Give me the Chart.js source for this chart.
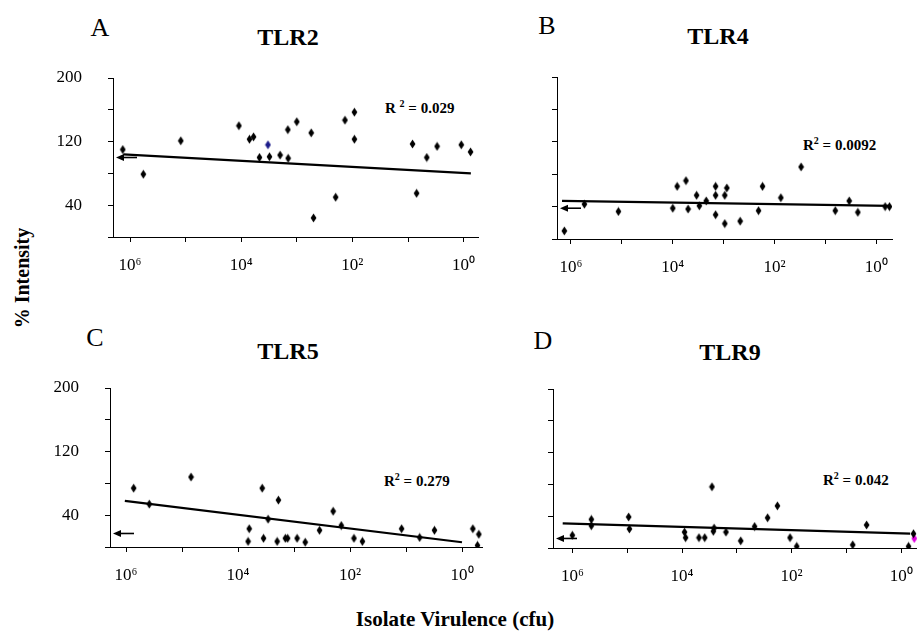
<!DOCTYPE html>
<html>
<head>
<meta charset="utf-8">
<script src="https://cdn.jsdelivr.net/npm/chart.js@4.4.1/dist/chart.umd.min.js"></script>
<style>
  html, body { margin: 0; padding: 0; background: #fff; }
  body { width: 917px; height: 639px; position: relative; overflow: hidden;
         font-family: 'Liberation Serif', 'Times New Roman', serif; color: #000; }
  canvas { position: absolute; }
  .txt { position: absolute; white-space: nowrap; transform: translate(-50%, -50%); line-height: 1; }
  .letter { font-size: 26px; }
  .title { font-size: 24px; font-weight: bold; }
  .r2 { font-size: 15px; font-weight: bold; transform: translate(0, -50%); }
  .r2 sup { font-size: 10px; line-height: 0; }
  .axis { font-size: 21px; font-weight: bold; }
  .ylab { transform: translate(-50%, -50%) rotate(-90deg); font-size: 20px; }
</style>
</head>
<body>

<div class="txt letter" style="left:100px; top:28px;">A</div>
<div class="txt title" style="left:288px; top:37px;">TLR2</div>
<div class="txt letter" style="left:547px; top:26px;">B</div>
<div class="txt title" style="left:718px; top:36px;">TLR4</div>
<div class="txt letter" style="left:95px; top:338px;">C</div>
<div class="txt title" style="left:288px; top:351px;">TLR5</div>
<div class="txt letter" style="left:543px; top:341px;">D</div>
<div class="txt title" style="left:730px; top:352px;">TLR9</div>

<div class="txt r2" style="left:385px; top:108px;">R <sup>2</sup> = 0.029</div>
<div class="txt r2" style="left:803px; top:145px;">R<sup>2</sup> = 0.0092</div>
<div class="txt r2" style="left:384px; top:481px;">R<sup>2</sup> = 0.279</div>
<div class="txt r2" style="left:823px; top:480px;">R<sup>2</sup> = 0.042</div>

<div class="txt axis ylab" style="left:22px; top:278px;">% Intensity</div>
<div class="txt axis" style="left:455px; top:619px;">Isolate Virulence (cfu)</div>

<canvas id="tlr2"></canvas>
<canvas id="tlr4"></canvas>
<canvas id="tlr5"></canvas>
<canvas id="tlr9"></canvas>

<script>
// tick values
const xTickValues = [1e6, 1e5, 1e4, 1e3, 1e2, 1e1, 1e0];
const yLabelValues = [40, 120, 200];

// TLR2 (A)
const tlr2X = [1.35e6, 5.75e5, 1.22e5, 1.1e4, 7.1e3, 6.0e3, 4.7e3, 3.1e3, 2.0e3, 1.45e3, 1.43e3, 1.0e3,
               550, 500, 200, 136, 92, 92, 8.3, 7.0, 4.6, 3.0, 1.1, 0.75];
const tlr2Y = [110, 79, 121, 140, 123, 126, 100, 101, 103, 135, 99, 145,
               131, 24, 50, 147, 157, 123, 117, 55, 100, 114, 116, 107];
const tlr2BlueX = [3.3e3];
const tlr2BlueY = [116];
const tlr2TrendX = [1.32e6, 0.74];
const tlr2TrendY = [104, 80];

// TLR4 (B)
const tlr4X = [1.35e6, 5.45e5, 1.17e5, 1.0e4, 8.2e3, 5.5e3, 5.0e3, 3.4e3, 3.0e3, 2.2e3, 1.44e3, 1.44e3, 1.44e3,
               950, 865, 950, 473, 206, 172, 75, 30, 6.4, 3.4, 2.3, 0.67, 0.55];
const tlr4Y = [10, 43, 34, 38, 65, 72, 37, 54, 41, 47, 65, 54, 30,
               54, 63, 19, 22, 35, 65, 51, 89, 35, 47, 33, 40, 40];
const tlr4TrendX = [1.5e6, 0.55];
const tlr4TrendY = [47, 41];

// TLR5 (C)
const tlr5X = [7.3e5, 3.84e5, 6.9e4, 6.6e3, 6.3e3, 3.7e3, 3.5e3, 2.9e3, 2.0e3, 1.9e3, 1.43e3, 1.3e3,
               880, 630, 350, 200, 143, 85, 60, 12, 5.7, 3.1, 0.64, 0.5, 0.53];
const tlr5Y = [74, 54, 88, 7, 23, 74, 11, 35, 7, 59, 11, 11,
               11, 6, 21, 45, 27, 11, 7, 23, 12, 21, 23, 16, 2];
const tlr5TrendX = [1.05e6, 1.0];
const tlr5TrendY = [58, 6];

// TLR9 (D)
const tlr9X = [1.0e6, 4.5e5, 4.5e5, 9.4e4, 9.1e4, 9.0e3, 8.6e3, 4.9e3, 3.85e3, 2.84e3, 2.68e3, 2.6e3,
               1.58e3, 850, 474, 275, 182, 107, 81, 7.7, 4.3, 0.74, 0.6];
const tlr9Y = [16, 36, 28, 39, 24, 20, 13, 13, 13, 77, 21, 25,
               20, 9, 27, 38, 53, 13, 2, 4, 29, 2, 18];
const tlr9PinkX = [0.58];
const tlr9PinkY = [12];
const tlr9TrendX = [1.5e6, 0.69];
const tlr9TrendY = [31, 18];

// arrow levels (% intensity) at the left axis
const arrowLevels = [100, 38, 17, 12];

const toPoints = (xs, ys) => xs.map((x, i) => ({ x: x, y: ys[i] }));
const sup = { '0': '⁰', '2': '²', '4': '⁴', '6': '⁶' };

function diamond(color) {
    const c = document.createElement('canvas');
    c.width = 7;
    c.height = 10;
    const g = c.getContext('2d');
    g.fillStyle = color;
    g.beginPath();
    g.moveTo(3.5, 0.6);
    g.lineTo(6.4, 5);
    g.lineTo(3.5, 9.4);
    g.lineTo(0.6, 5);
    g.closePath();
    g.fill();
    return c;
}

const blackDiamond = diamond('#000');

const arrowPlugin = {
    id: 'leftArrow',
    afterDatasetsDraw(chart, args, opts) {
        const ctx = chart.ctx;
        const y = chart.scales.y.getPixelForValue(opts.value);
        const x0 = chart.chartArea.left + 3;
        const x1 = x0 + 21;
        ctx.save();
        ctx.strokeStyle = '#000';
        ctx.fillStyle = '#000';
        ctx.lineWidth = 1.6;
        ctx.beginPath();
        ctx.moveTo(x0 + 6, y);
        ctx.lineTo(x1, y);
        ctx.stroke();
        ctx.beginPath();
        ctx.moveTo(x0, y);
        ctx.lineTo(x0 + 8, y - 3.5);
        ctx.lineTo(x0 + 8, y + 3.5);
        ctx.closePath();
        ctx.fill();
        ctx.restore();
    }
};

const ML = 80, MT = 15, MR = 15, MB = 55;

function makePanel(id, area, logMin, logMax, showYLabels, datasets, arrowValue) {
    const canvas = document.getElementById(id);
    const w = area.right - area.left + ML + MR;
    const h = area.bottom - area.top + MT + MB;
    canvas.width = w;
    canvas.height = h;
    canvas.style.width = w + 'px';
    canvas.style.height = h + 'px';
    canvas.style.left = (area.left - ML) + 'px';
    canvas.style.top = (area.top - MT) + 'px';

    const tickFont = { family: "'Liberation Serif', 'Times New Roman', serif", size: 17 };

    return new Chart(canvas.getContext('2d'), {
        type: 'scatter',
        data: { datasets: datasets },
        options: {
            responsive: false,
            animation: false,
            devicePixelRatio: 1,
            events: [],
            layout: { padding: { left: 0, top: MT, right: MR, bottom: 0 } },
            plugins: {
                legend: { display: false },
                tooltip: { enabled: false },
                leftArrow: { value: arrowValue }
            },
            scales: {
                x: {
                    type: 'logarithmic',
                    reverse: true,
                    min: Math.pow(10, logMin),
                    max: Math.pow(10, logMax),
                    afterBuildTicks: (scale) => {
                        scale.ticks = xTickValues.map(v => ({ value: v }));
                    },
                    afterFit: (scale) => {
                        scale.height = MB;
                        scale.paddingLeft = 0;
                        scale.paddingRight = 0;
                    },
                    ticks: {
                        autoSkip: false,
                        maxRotation: 0,
                        padding: 13,
                        color: '#000',
                        font: tickFont,
                        callback: (value) => {
                            const e = Math.round(Math.log10(value));
                            return e % 2 === 0 ? '10' + sup[String(e)] : '';
                        }
                    },
                    grid: { drawOnChartArea: false, drawTicks: true, tickLength: 5, color: '#000', lineWidth: 1 },
                    border: { display: true, color: '#000', width: 1 }
                },
                y: {
                    min: 0,
                    max: 200,
                    afterFit: (scale) => {
                        scale.width = ML;
                        scale.paddingTop = 0;
                        scale.paddingBottom = 0;
                    },
                    ticks: {
                        stepSize: 40,
                        padding: 26,
                        color: '#000',
                        font: tickFont,
                        callback: (value) => (showYLabels && yLabelValues.includes(value)) ? String(value) : ''
                    },
                    grid: { drawOnChartArea: false, drawTicks: true, tickLength: 5, color: '#000', lineWidth: 1 },
                    border: { display: true, color: '#000', width: 1 }
                }
            }
        },
        plugins: [arrowPlugin]
    });
}

function pointSet(xs, ys, style) {
    return { data: toPoints(xs, ys), pointStyle: style, showLine: false, pointRadius: 4 };
}

function trendSet(xs, ys) {
    return { data: toPoints(xs, ys), showLine: true, pointRadius: 0, borderColor: '#000', borderWidth: 2.2 };
}

makePanel('tlr2', { left: 113, top: 78, right: 478, bottom: 237 }, -0.259, 6.306, true, [
    pointSet(tlr2X, tlr2Y, blackDiamond),
    pointSet(tlr2BlueX, tlr2BlueY, diamond('#1c1c8a')),
    trendSet(tlr2TrendX, tlr2TrendY)
], arrowLevels[0]);

makePanel('tlr4', { left: 557, top: 77, right: 892, bottom: 239 }, -0.309, 6.275, false, [
    pointSet(tlr4X, tlr4Y, blackDiamond),
    trendSet(tlr4TrendX, tlr4TrendY)
], arrowLevels[1]);

makePanel('tlr5', { left: 110, top: 388, right: 482, bottom: 547 }, -0.357, 6.286, true, [
    pointSet(tlr5X, tlr5Y, blackDiamond),
    trendSet(tlr5TrendX, tlr5TrendY)
], arrowLevels[2]);

makePanel('tlr9', { left: 553, top: 389, right: 930, bottom: 548 }, -0.465, 6.353, false, [
    pointSet(tlr9X, tlr9Y, blackDiamond),
    pointSet(tlr9PinkX, tlr9PinkY, diamond('#e000e0')),
    trendSet(tlr9TrendX, tlr9TrendY)
], arrowLevels[3]);
</script>
</body>
</html>
